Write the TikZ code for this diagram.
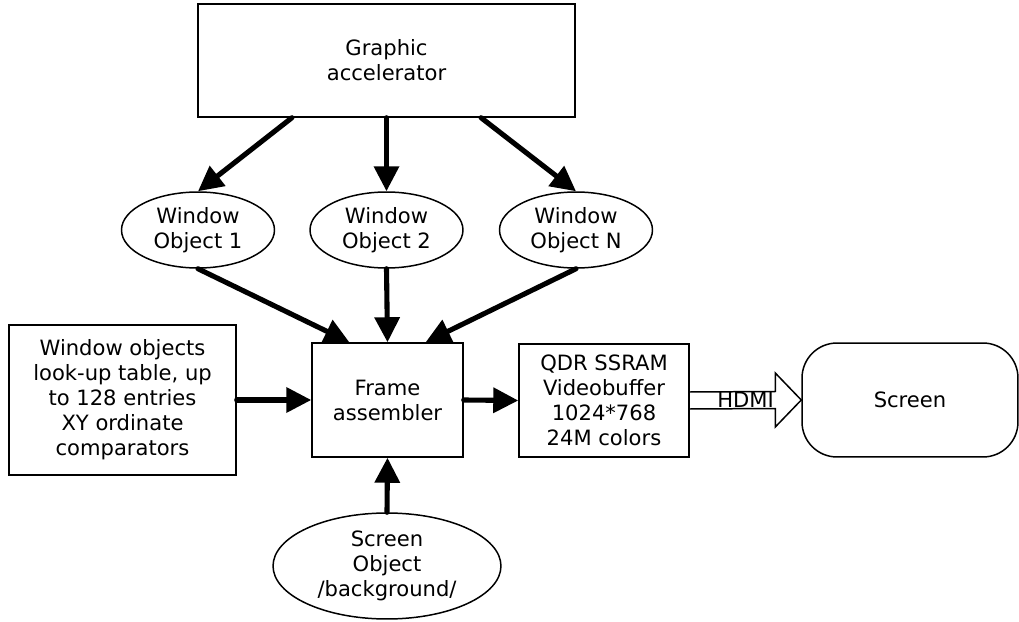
\documentclass[tikz,border=0pt]{standalone}
\usepackage{fontspec}
\setmainfont{DejaVu Sans}
\usetikzlibrary{arrows.meta}
\usetikzlibrary{calc}
\usetikzlibrary{shapes.geometric}

\begin{document}
\begin{tikzpicture}[x=0.02cm,y=-0.02cm,
  every node/.style={font=\fontsize{12pt}{14.2pt}\selectfont},
  box/.style={draw,line width=0.85pt,align=center,inner sep=0pt},
  oval/.style={draw,ellipse,line width=0.85pt,align=center,inner sep=0pt},
  feed/.style={line width=2.9pt,line cap=round,-{Triangle[length=5mm,width=4.9mm]}}]
  \useasboundingbox
    (0,0)
    rectangle
    (1019,622);
  \node[box,minimum width=7.54cm,minimum height=2.26cm]
    (ga) at (386.5,60.5)
    {Graphic\\accelerator};
  \node[oval,minimum width=3.06cm,minimum height=1.52cm]
    (w1) at (198,230)
    {Window\\Object 1};
  \node[oval,minimum width=3.06cm,minimum height=1.52cm]
    (w2) at (386.5,230)
    {Window\\Object 2};
  \node[oval,minimum width=3.06cm,minimum height=1.52cm]
    (wn) at (576,230)
    {Window\\Object N};
  \node[box,minimum width=3.02cm,minimum height=2.28cm]
    (fa) at (387.5,400)
    {Frame\\assembler};
  \node[box,minimum width=4.54cm,minimum height=3cm]
    (lut) at (122.5,400)
    {Window objects\\look-up table, up\\to 128 entries\\XY ordinate\\comparators};
  \node[box,minimum width=3.4cm,minimum height=2.26cm]
    (qdr) at (604,400.5)
    {QDR SSRAM\\Videobuffer\\1024*768\\24M colors};
  \node[box,rounded corners=0.7cm,minimum width=4.32cm,minimum height=2.28cm]
    (scr) at (910,400)
    {Screen};
  \node[oval,minimum width=4.56cm,minimum height=2.12cm]
    (so) at (387,566)
    {Screen\\Object\\/background/};
  \draw[feed]
    ($(ga.south)!0.5!(ga.south west)$)
    --
    (w1.north);
  \draw[feed]
    (ga.south)
    --
    (w2.north);
  \draw[feed]
    ($(ga.south)!0.5!(ga.south east)$)
    --
    (wn.north);
  \draw[feed]
    (w1.south)
    --
    ($(fa.north)!0.5!(fa.north west)$);
  \draw[feed]
    (w2.south)
    --
    (fa.north);
  \draw[feed]
    (wn.south)
    --
    ($(fa.north)!0.5!(fa.north east)$);
  \draw[feed]
    (lut.east)
    --
    (fa.west);
  \draw[feed]
    (fa.east)
    --
    (qdr.west);
  \draw[feed]
    (so.north)
    --
    (fa.south);
  \draw[line width=0.85pt]
    ($(qdr.east)+(0,-8.5)$)
    --
    ($(scr.west)+(-26,-8.5)$)
    --
    ($(scr.west)+(-26,-27)$)
    --
    (scr.west)
    --
    ($(scr.west)+(-26,27)$)
    --
    ($(scr.west)+(-26,8.5)$)
    --
    ($(qdr.east)+(0,8.5)$);
  \node
    (hdmi) at (745.5,400)
    {HDMI};
\end{tikzpicture}
\end{document}
